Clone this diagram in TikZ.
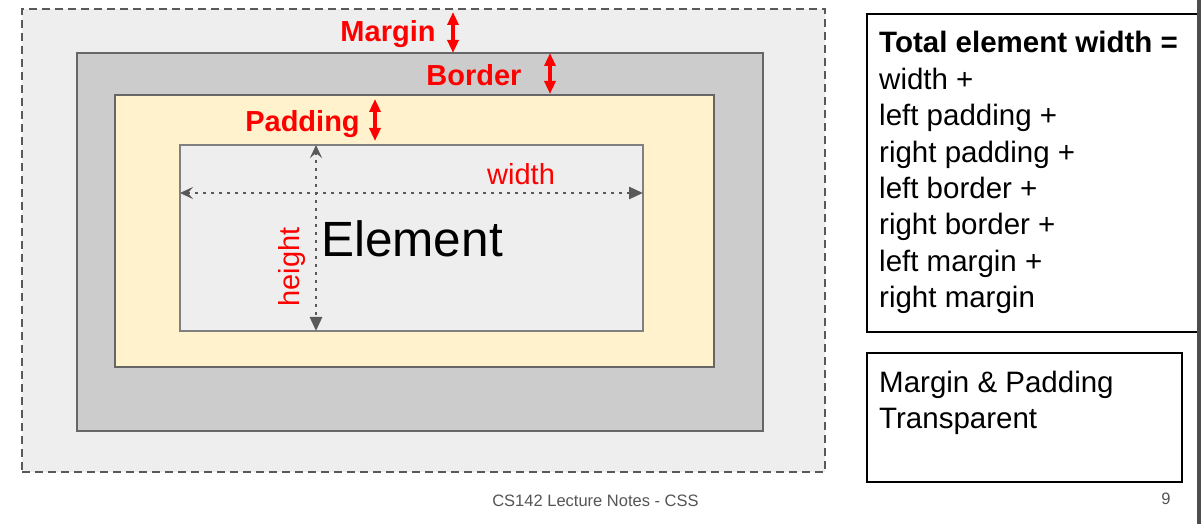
\documentclass[tikz,border=0pt]{standalone}
\usepackage{fontspec}
\setmainfont{Liberation Sans}
\usetikzlibrary{arrows.meta}
\definecolor{marginfill}{HTML}{EEEEEE}
\definecolor{borderfill}{HTML}{CCCCCC}
\definecolor{padfill}{HTML}{FFF2CC}
\definecolor{elemfill}{HTML}{EEEEEE}
\definecolor{darkline}{HTML}{666666}
\definecolor{dimgray}{HTML}{595959}
\definecolor{footgray}{HTML}{555555}
\definecolor{pagebar}{HTML}{4D4D4D}
\begin{document}
\begin{tikzpicture}[x=1bp,y=-1bp,
  boxbase/.style={rectangle, inner sep=0pt, outer sep=0pt, anchor=north west},
  marginbox/.style={boxbase, fill=marginfill, draw=dimgray, line width=2.5bp, dash pattern=on 8bp off 5bp},
  borderbox/.style={boxbase, fill=borderfill, draw=darkline, line width=2.2bp},
  paddingbox/.style={boxbase, fill=padfill, draw=darkline, line width=2.2bp},
  elembox/.style={boxbase, fill=elemfill, draw=gray, line width=1.5bp},
  infobox/.style={boxbase, draw=black, line width=1.3bp},
  bigred/.style={text=red, font=\fontsize{29bp}{35bp}\selectfont\bfseries, inner sep=0pt, anchor=base},
  smallred/.style={text=red, font=\fontsize{29bp}{35bp}\selectfont, inner sep=0pt},
  infotext/.style={font=\fontsize{29.5bp}{36bp}\selectfont, inner sep=0pt, anchor=base west},
  footer/.style={text=footgray, font=\fontsize{16.5bp}{20bp}\selectfont, inner sep=0pt, anchor=base},
  redarrow/.style={red, line width=3.2bp, {Triangle[length=13bp,width=11bp]}-{Triangle[length=13bp,width=11bp]}},
  dimarrow/.style={dimgray, line width=2.5bp, dash pattern=on 2.5bp off 5.5bp, {Stealth[length=13bp,width=12bp,inset=5bp]}-{Triangle[length=14bp,width=12bp]}}
]
\useasboundingbox (0,0) rectangle (1201,524);
\fill[white] (0,0) rectangle (1201,524);

% nested boxes
\node[marginbox, minimum width=803bp, minimum height=463bp] (margin) at (22,9) {};
\node[borderbox, minimum width=686bp, minimum height=378bp] (border) at (77,53) {};
\node[paddingbox, minimum width=599bp, minimum height=272bp] (padding) at (115,95) {};
\node[elembox, minimum width=463bp, minimum height=186bp] (elem) at (180,145) {};

% red labels
\node[bigred] (lmargin) at (388,42) {Margin};
\node[bigred] (lborder) at (474,86) {Border};
\node[bigred] (lpadding) at (302.5,132) {Padding};

% red arrows
\coordinate (ma1) at (453,12);
\coordinate (ma2) at (453,53);
\coordinate (ba1) at (550,53);
\coordinate (ba2) at (550,94);
\coordinate (pa1) at (375,99);
\coordinate (pa2) at (375,141);
\draw[redarrow] (ma1) -- (ma2);
\draw[redarrow] (ba1) -- (ba2);
\draw[redarrow] (pa1) -- (pa2);

% dimension arrows
\coordinate (hl) at (180,193);
\coordinate (hr) at (643,193);
\coordinate (vt) at (316,145);
\coordinate (vb) at (316,331);
\draw[dimarrow] (hl) -- (hr);
\draw[dimarrow] (vt) -- (vb);

\node[smallred, anchor=base west] (lwidth) at (487,185) {width};
\node[smallred, anchor=base, rotate=90] (lheight) at (299,267) {height};
\node[font=\fontsize{49.5bp}{58bp}\selectfont, inner sep=0pt, anchor=base west] (lelem) at (321,257) {Element};

% right info boxes
\node[infobox, minimum width=332bp, minimum height=318bp] (info1) at (867,14) {};
\node[infobox, minimum width=315bp, minimum height=129bp] (info2) at (867,353) {};

\node[infotext, font=\fontsize{29.5bp}{36bp}\selectfont\bfseries] (t1) at (879,53) {Total element width =};
\node[infotext] (t2) at (879,89.4) {width +};
\node[infotext] (t3) at (879,125.8) {left padding +};
\node[infotext] (t4) at (879,162.2) {right padding +};
\node[infotext] (t5) at (879,198.6) {left border +};
\node[infotext] (t6) at (879,235) {right border +};
\node[infotext] (t7) at (879,271.4) {left margin +};
\node[infotext] (t8) at (879,307.8) {right margin};

\node[infotext] (u1) at (879,392) {Margin \& Padding};
\node[infotext] (u2) at (879,428) {Transparent};

% footer
\node[footer] (foot) at (595.5,506) {CS142 Lecture Notes - CSS};
\node[footer] (pageno) at (1166,504) {9};

% page edge bar
\fill[pagebar] (1197,0) rectangle (1201,524);
\end{tikzpicture}
\end{document}
